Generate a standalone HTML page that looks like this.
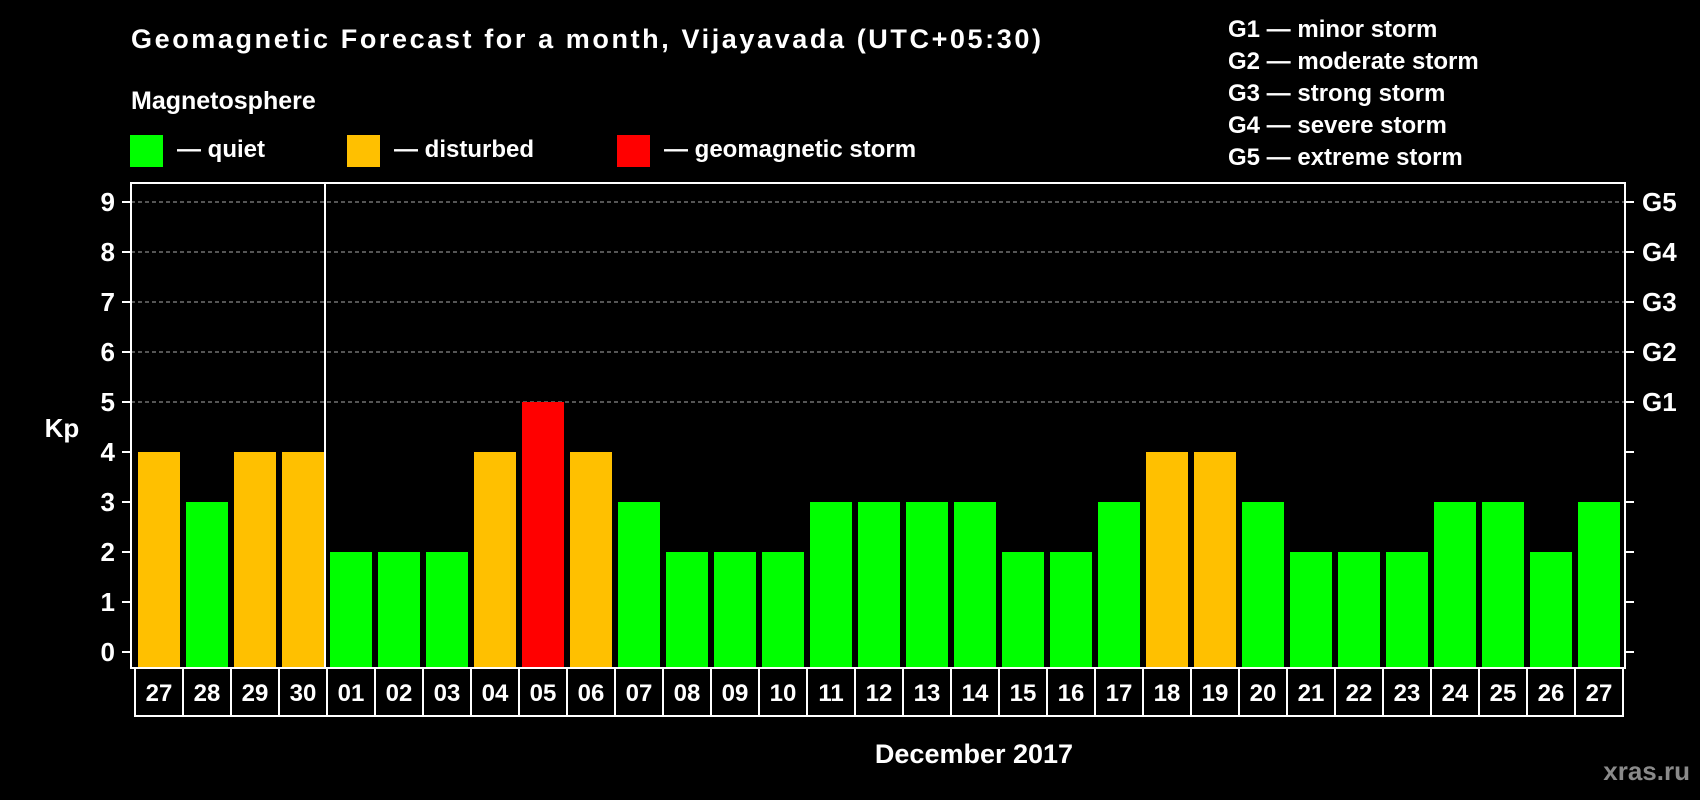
<!DOCTYPE html>
<html><head><meta charset="utf-8"><style>
html,body{margin:0;padding:0;background:#000;}
svg{display:block;}
text{font-family:"Liberation Sans",Arial,sans-serif;font-weight:bold;fill:#fff;}
</style></head><body>
<svg id="chart" width="1700" height="800" viewBox="0 0 1700 800">
<rect width="1700" height="800" fill="#000"/>
<text x="131" y="48" font-size="27" textLength="910">Geomagnetic Forecast for a month, Vijayavada (UTC+05:30)</text>
<text x="131" y="109" font-size="25">Magnetosphere</text>
<g>
<rect x="130" y="135" width="33" height="32" fill="#00ff00"/>
<text x="177" y="157" font-size="24">— quiet</text></g>
<g>
<rect x="347" y="135" width="33" height="32" fill="#ffc000"/>
<text x="394" y="157" font-size="24">— disturbed</text></g>
<g>
<rect x="617" y="135" width="33" height="32" fill="#ff0000"/>
<text x="664" y="157" font-size="24">— geomagnetic storm</text></g>
<g>
<text x="1228" y="37" font-size="24">G1 — minor storm</text>
<text x="1228" y="69" font-size="24">G2 — moderate storm</text>
<text x="1228" y="101" font-size="24">G3 — strong storm</text>
<text x="1228" y="133" font-size="24">G4 — severe storm</text>
<text x="1228" y="165" font-size="24">G5 — extreme storm</text>
</g>
<text x="62" y="437" font-size="26" text-anchor="middle">Kp</text>
<text x="974" y="763" font-size="27" text-anchor="middle">December 2017</text>
<text x="1690" y="780" font-size="26" text-anchor="end" style="fill:#8a8a8a">xras.ru</text>
<g id="grid"></g><g id="bars"></g><g id="axes"></g>
</svg>
<script>
const days = ["27","28","29","30","01","02","03","04","05","06","07","08","09","10","11","12","13","14","15","16","17","18","19","20","21","22","23","24","25","26","27"];
const kp = [4,3,4,4,2,2,2,4,5,4,3,2,2,2,3,3,3,3,2,2,3,4,4,3,2,2,2,3,3,2,3];
const yTicks = [0,1,2,3,4,5,6,7,8,9];
const gLabels = ["","","","","","G1","G2","G3","G4","G5"];
const NS="http://www.w3.org/2000/svg";
const L=131,R=1625,T=183,B=668,Y0=652,UNIT=50,X0=135,PITCH=48,BW=42;
function y(v){return Y0-v*UNIT;}
function x(i){return X0+i*PITCH;}
function mk(tag,attrs,parent){const e=document.createElementNS(NS,tag);for(const k in attrs)e.setAttribute(k,attrs[k]);parent.appendChild(e);return e;}
function color(v){return v>=5?"#ff0000":(v>=4?"#ffc000":"#00ff00");}
const grid=document.getElementById("grid"),bars=document.getElementById("bars"),axes=document.getElementById("axes");
yTicks.forEach((t,i)=>{
  if(t>=5){const g=mk("line",{x1:L,x2:R,y1:y(t),y2:y(t),stroke:"#888","stroke-width":1.2,"stroke-dasharray":"4,3"},grid);
  
  }
  const tl=mk("line",{x1:L-9,x2:L,y1:y(t),y2:y(t),stroke:"#fff","stroke-width":2},axes);
  
  
  const tr=mk("line",{x1:R,x2:R+9,y1:y(t),y2:y(t),stroke:"#fff","stroke-width":2},axes);
  
  
  const lb=mk("text",{x:115,y:y(t)+9,"font-size":26,"text-anchor":"end"},axes);lb.textContent=t;
  
  
  if(gLabels[i]){const gl=mk("text",{x:1642,y:y(t)+9,"font-size":26},axes);gl.textContent=gLabels[i];
  
  }
});
kp.forEach((v,i)=>{
  const b=mk("rect",{x:x(i)+3,y:y(v),width:BW,height:y(0)-y(v)+15,fill:color(v)},bars);
  
  
});
const fr=mk("rect",{x:L,y:T,width:R-L,height:B-T,fill:"none",stroke:"#fff","stroke-width":2},axes);


const sep=mk("line",{x1:x(4)-8+6,x2:x(4)-8+6,y1:T,y2:B,stroke:"#fff","stroke-width":2},axes);


const db=mk("rect",{x:X0,y:B,width:x(days.length)-X0-0,height:716-B,fill:"none",stroke:"#fff","stroke-width":2},axes);


days.forEach((d,i)=>{
  if(i>0){const l=mk("line",{x1:x(i),x2:x(i),y1:B,y2:716,stroke:"#fff","stroke-width":2},axes);
  
  }
  const t=mk("text",{x:x(i)+24,y:701,"font-size":24,"text-anchor":"middle"},axes);t.textContent=d;
  
  
});
</script>
</body></html>
